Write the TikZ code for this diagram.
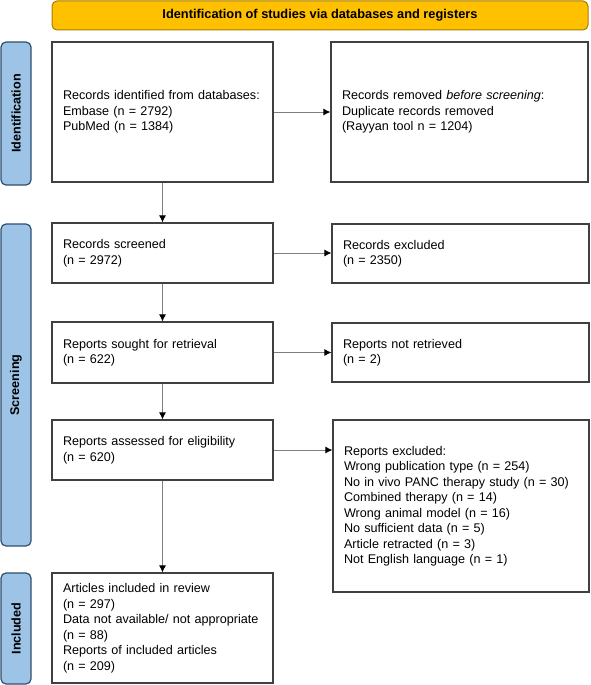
\documentclass[tikz,border=0pt]{standalone}
\usepackage{fontspec}
\setmainfont{Liberation Sans}
\usetikzlibrary{arrows.meta}
\definecolor{boxline}{HTML}{404040}
\definecolor{gold}{HTML}{FFC000}
\definecolor{goldline}{HTML}{A67C00}
\definecolor{barblue}{HTML}{9DC3E6}
\definecolor{barline}{HTML}{2F4F6F}
\definecolor{arrowgray}{HTML}{7F7F7F}
\tikzset{
  flowbox/.style={draw=boxline, line width=1.2pt, fill=white, inner xsep=11pt, inner ysep=0pt,
    align=left, font=\fontsize{12.6}{15.5}\selectfont, anchor=center},
  banner/.style={draw=goldline, line width=1pt, fill=gold, rounded corners=5pt,
    font=\bfseries\fontsize{12.8}{15}\selectfont, anchor=center},
  sidebar/.style={draw=barline, line width=1.2pt, fill=barblue, rounded corners=5pt,
    font=\bfseries\fontsize{12.6}{15}\selectfont, anchor=center},
  flowarrow/.style={draw=arrowgray, line width=0.9pt, -{Latex[length=7pt,width=7pt,black]}}
}
\begin{document}
\begin{tikzpicture}[x=1pt,y=-1pt]
\useasboundingbox (0,0) rectangle (591,685);
% banner
\node[banner, minimum width=536pt, minimum height=29pt] (ban) at (320,15.5) {Identification of studies via databases and registers};
% side bars
\node[sidebar, minimum width=30pt, minimum height=143pt] (sb1) at (16,113.5) {};
\node[rotate=90, font=\bfseries\fontsize{12.6}{15}\selectfont] (sb1t) at (sb1.center) {Identification};
\node[sidebar, minimum width=30pt, minimum height=322pt] (sb2) at (16,385) {};
\node[rotate=90, font=\bfseries\fontsize{12.6}{15}\selectfont] (sb2t) at (sb2.center) {Screening};
\node[sidebar, minimum width=30pt, minimum height=111pt] (sb3) at (16,628.5) {};
\node[rotate=90, font=\bfseries\fontsize{12.6}{15}\selectfont] (sb3t) at (sb3.center) {Included};
% left boxes
\node[flowbox, text width=199pt, minimum height=140pt] (b1) at (162.5,112) {Records identified from databases:\\Embase (n = 2792)\\PubMed (n = 1384)};
\node[flowbox, text width=199pt, minimum height=60pt] (b2) at (162.5,253) {Records screened\\(n = 2972)};
\node[flowbox, text width=199pt, minimum height=61pt] (b3) at (162.5,352.5) {Reports sought for retrieval\\(n = 622)};
\node[flowbox, text width=199pt, minimum height=60pt] (b4) at (162.5,450) {Reports assessed for eligibility\\(n = 620)};
\node[flowbox, text width=199pt, minimum height=110pt] (b5) at (162.5,628) {Articles included in review\\(n = 297)\\Data not available/ not appropriate\\(n = 88)\\Reports of included articles\\(n = 209)};
% right boxes
\node[flowbox, text width=235pt, minimum height=140pt] (r1) at (459.5,112) {Records removed \textit{before screening}:\\Duplicate records removed\\(Rayyan tool n = 1204)};
\node[flowbox, text width=235pt, minimum height=59pt] (r2) at (460.5,253.5) {Records excluded\\(n = 2350)};
\node[flowbox, text width=235pt, minimum height=59pt] (r3) at (460.5,352.5) {Reports not retrieved\\(n = 2)};
\node[flowbox, text width=234pt, minimum height=172pt] (r4) at (461,506) {Reports excluded:\\Wrong publication type (n = 254)\\No in vivo PANC therapy study (n = 30)\\Combined therapy (n = 14)\\Wrong animal model (n = 16)\\No sufficient data (n = 5)\\Article retracted (n = 3)\\Not English language (n = 1)};
% arrows
\draw[flowarrow] (b1) -- (b2);
\draw[flowarrow] (b2) -- (b3);
\draw[flowarrow] (b3) -- (b4);
\draw[flowarrow] (b4) -- (b5);
\draw[flowarrow] (b1) -- (r1);
\draw[flowarrow] (b2.east) -- (r2.west |- b2.east);
\draw[flowarrow] (b3.east) -- (r3.west |- b3.east);
\draw[flowarrow] (b4.east) -- (r4.west |- b4.east);
\end{tikzpicture}
\end{document}
